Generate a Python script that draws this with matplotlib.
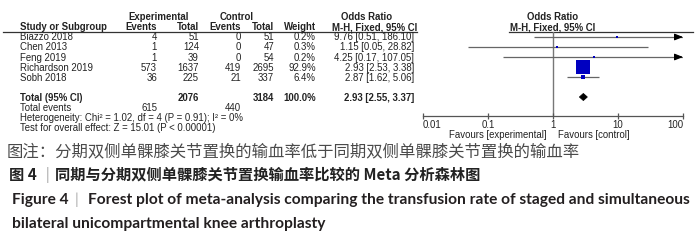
import numpy as np
import matplotlib
matplotlib.use("Agg")
import matplotlib.pyplot as plt
from matplotlib.patches import Polygon

# ---------------- data ----------------
studies = ["Biazzo 2018", "Chen 2013", "Feng 2019", "Richardson 2019", "Sobh 2018"]
exp_events = [4, 1, 1, 573, 36]
exp_total = [51, 124, 39, 1637, 225]
ctl_events = [0, 0, 0, 419, 21]
ctl_total = [51, 47, 54, 2695, 337]
weights = [0.2, 0.3, 0.2, 92.9, 6.4]
or_est = [9.76, 1.15, 4.25, 2.93, 2.87]
or_lo = [0.51, 0.05, 0.17, 2.53, 1.62]
or_hi = [186.10, 28.82, 107.05, 3.38, 5.06]

total_exp = 2076
total_ctl = 3184
total_weight = 100.0
total_or = 2.93
total_lo = 2.55
total_hi = 3.37
total_events_exp = 615
total_events_ctl = 440
het_text = "Heterogeneity: Chi\u00b2 = 1.02, df = 4 (P = 0.91); I\u00b2 = 0%"
test_text = "Test for overall effect: Z = 15.01 (P < 0.00001)"

xticks = [0.01, 0.1, 1, 10, 100]
xtick_labels = ["0.01", "0.1", "1", "10", "100"]

cap_cn1 = "图注：分期双侧单髁膝关节置换的输血率低于同期双侧单髁膝关节置换的输血率"
cap_cn2_a = "图 4"
cap_cn2_b = "同期与分期双侧单髁膝关节置换输血率比较的 Meta 分析森林图"
cap_en_a = "Figure 4"
cap_en_b = "Forest plot of meta-analysis comparing the transfusion rate of staged and simultaneous"
cap_en_c = "bilateral unicompartmental knee arthroplasty"

# ---------------- figure ----------------
W, H = 700, 243
fig = plt.figure(figsize=(W / 100, H / 100), dpi=100)
fig.patch.set_facecolor("white")

# pixel-coordinate overlay for the table text
axT = fig.add_axes([0, 0, 1, 1])
axT.set_xlim(0, W)
axT.set_ylim(H, 0)
axT.axis("off")

TF = ["Liberation Sans", "DejaVu Sans"]
fs = 6.9
tc = "#222222"

def t(x, y, s, ha="left", bold=False, size=fs, color=tc):
    axT.text(x, y, s, ha=ha, va="center", fontsize=size, family=TF,
             fontweight="bold" if bold else "normal", color=color)

# headers
t(159, 17, "Experimental", ha="center", bold=True)
t(237, 17, "Control", ha="center", bold=True)
t(367, 17, "Odds Ratio", ha="center", bold=True)
t(20, 27, "Study or Subgroup", bold=True)
t(157, 27, "Events", ha="right", bold=True)
t(199, 27, "Total", ha="right", bold=True)
t(241, 27, "Events", ha="right", bold=True)
t(274, 27, "Total", ha="right", bold=True)
t(316, 27, "Weight", ha="right", bold=True)
t(375, 27, "M-H, Fixed, 95% CI", ha="center", bold=True)
t(553, 17, "Odds Ratio", ha="center", bold=True)
t(553, 27, "M-H, Fixed, 95% CI", ha="center", bold=True)
axT.plot([3, 417], [32.5, 32.5], color="#333333", lw=0.9)
axT.plot([509, 693], [32.5, 32.5], color="#333333", lw=0.9)

row_y0, row_dy = 37.5, 10
for i, s in enumerate(studies):
    y = row_y0 + row_dy * i
    t(20, y, s)
    t(157, y, str(exp_events[i]), ha="right")
    t(199, y, str(exp_total[i]), ha="right")
    t(241, y, str(ctl_events[i]), ha="right")
    t(274, y, str(ctl_total[i]), ha="right")
    t(316, y, f"{weights[i]:.1f}%", ha="right")
    t(414, y, f"{or_est[i]:.2f} [{or_lo[i]:.2f}, {or_hi[i]:.2f}]", ha="right")

yT = row_y0 + row_dy * 6 + 0.5
t(20, yT, "Total (95% CI)", bold=True)
t(199, yT, str(total_exp), ha="right", bold=True)
t(274, yT, str(total_ctl), ha="right", bold=True)
t(316, yT, f"{total_weight:.1f}%", ha="right", bold=True)
t(414, yT, f"{total_or:.2f} [{total_lo:.2f}, {total_hi:.2f}]", ha="right", bold=True)
t(20, yT + 10, "Total events")
t(157, yT + 10, str(total_events_exp), ha="right")
t(241, yT + 10, str(total_events_ctl), ha="right")
t(20, yT + 20, het_text)
t(20, yT + 29.5, test_text)

# ---------------- forest plot ----------------
px_l, px_r, px_t, px_b = 423, 683, 32.5, 116
axF = fig.add_axes([px_l / W, 1 - px_b / H, (px_r - px_l) / W, (px_b - px_t) / H])
axF.set_xscale("log")
axF.set_xlim(0.01, 100)
row_px0 = 37
axF.set_ylim((px_b - row_px0) / row_dy, (px_t - row_px0) / row_dy)
axF.patch.set_alpha(0)
for sp in ["top", "left", "right"]:
    axF.spines[sp].set_visible(False)
axF.spines["bottom"].set_color("#555555")
axF.spines["bottom"].set_linewidth(0.9)
axF.set_yticks([])
axF.set_xticks(xticks)
axF.set_xticklabels(xtick_labels, family=TF, fontsize=fs, color=tc)
axF.xaxis.set_minor_locator(matplotlib.ticker.NullLocator())
axF.tick_params(axis="x", direction="inout", length=5, width=0.9, color="#555555", pad=0.3)
tl = axF.get_xticklabels()
tl[0].set_horizontalalignment("left")
tl[-1].set_horizontalalignment("right")

axF.axvline(1, color="#777777", lw=1.0, zorder=1)

xmin, xmax = 0.01, 100
max_w = max(weights)
for i in range(len(studies)):
    lo = max(or_lo[i], xmin)
    hi = min(or_hi[i], xmax)
    axF.plot([lo, hi], [i, i], color="#666666", lw=0.9, zorder=2, solid_capstyle="butt")
    if or_hi[i] > xmax:
        axF.annotate("", xy=(xmax, i), xytext=(xmax * 0.8, i),
                     arrowprops=dict(arrowstyle="-|>,head_length=0.5,head_width=0.2",
                                     color="black", lw=0.8, shrinkA=0, shrinkB=0))
    if or_lo[i] < xmin:
        axF.annotate("", xy=(xmin, i), xytext=(xmin * 1.25, i),
                     arrowprops=dict(arrowstyle="-|>,head_length=0.5,head_width=0.2",
                                     color="black", lw=0.8, shrinkA=0, shrinkB=0))
    side_px = max(2.0, 14.0 * np.sqrt(weights[i] / max_w))
    axF.plot([or_est[i]], [i], marker="s", ms=side_px * 0.72, color="#0000c0",
             mec="#0000c0", mew=0.0, zorder=3, linestyle="none")

# diamond for total
yd = 6
hd = 0.35
diamond = Polygon([[total_lo, yd], [total_or, yd - hd], [total_hi, yd], [total_or, yd + hd]],
                  closed=True, facecolor="black", edgecolor="black", lw=0.6, zorder=3)
axF.add_patch(diamond)

t(547, 134.5, "Favours [experimental]", ha="right")
t(558, 134.5, "Favours [control]", ha="left")

# ---------------- captions ----------------
CN = ["Noto Sans CJK SC", "DejaVu Sans"]
axT.text(7, 152, cap_cn1, ha="left", va="center", fontsize=11.8, family=CN, color="#4a4a4a")
axT.text(9, 175, cap_cn2_a, ha="left", va="center", fontsize=11.0, family=CN,
         fontweight="bold", color="#222222")
axT.text(47, 175, "|", ha="center", va="center", fontsize=10, family=CN, color="#999999")
axT.text(55, 175, cap_cn2_b, ha="left", va="center", fontsize=11.0, family=CN,
         fontweight="bold", color="#222222")

EN = ["Lato", "DejaVu Sans"]
efs = 11.2
axT.text(12, 200, cap_en_a, ha="left", va="center", fontsize=efs, family=EN,
         fontweight="bold", color="#231f20")
axT.text(77, 200, "|", ha="center", va="center", fontsize=11, family=EN, color="#aaaaaa")
axT.text(88, 200, cap_en_b, ha="left", va="center", fontsize=efs, family=EN,
         fontweight="bold", color="#231f20")
axT.text(12, 224, cap_en_c, ha="left", va="center", fontsize=efs, family=EN,
         fontweight="bold", color="#231f20")

fig.savefig("out.png", dpi=100, facecolor="white")
